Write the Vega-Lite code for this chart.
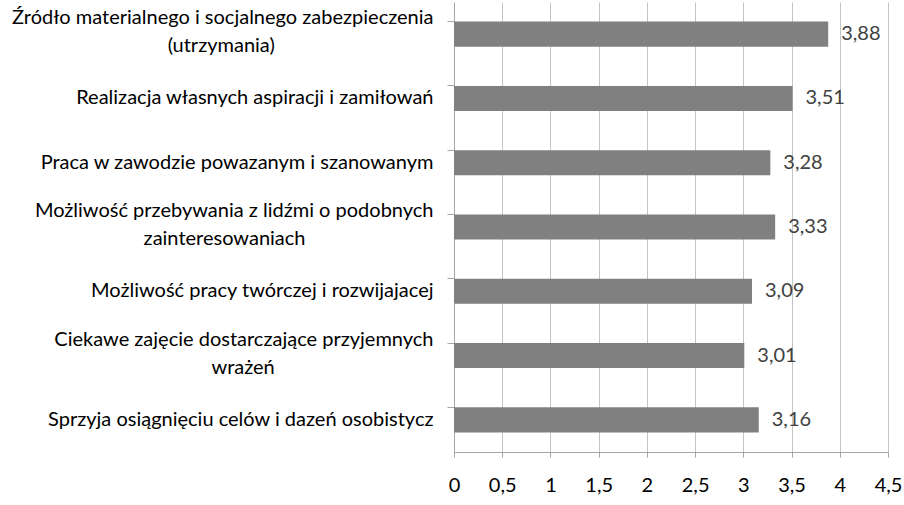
{
  "$schema": "https://vega.github.io/schema/vega-lite/v6.json",
  "autosize": {"type": "none"},
  "padding": {"left": 454, "top": 2, "right": 16, "bottom": 53},
  "width": 434,
  "height": 450,
  "background": "#ffffff",
  "config": {
    "locale": {"number": {"decimal": ",", "thousands": "\u00a0", "grouping": [3], "currency": ["", " zł"]}},
    "view": {"stroke": null},
    "font": "Lato"
  },
  "data": {
    "values": [
      {"kategoria": "Źródło materialnego i socjalnego zabezpieczenia|(utrzymania)", "wartosc": 3.88},
      {"kategoria": "Realizacja własnych aspiracji i zamiłowań", "wartosc": 3.51},
      {"kategoria": "Praca w zawodzie powazanym i szanowanym", "wartosc": 3.28},
      {"kategoria": "Możliwość przebywania z lidźmi o podobnych|zainteresowaniach", "wartosc": 3.33},
      {"kategoria": "Możliwość pracy twórczej  i rozwijajacej", "wartosc": 3.09},
      {"kategoria": "Ciekawe zajęcie dostarczające przyjemnych|wrażeń", "wartosc": 3.01},
      {"kategoria": "Sprzyja osiągnięciu celów i dazeń osobistycz", "wartosc": 3.16}
    ]
  },
  "encoding": {
    "y": {
      "field": "kategoria",
      "type": "nominal",
      "sort": null,
      "scale": {"paddingInner": 0.61, "paddingOuter": 0.305},
      "axis": {
        "title": null,
        "labelExpr": "indexof(datum.value, '|') < 0 ? datum.value : [split(datum.value, '|')[0], pad(split(datum.value, '|')[1], length(split(datum.value, '|')[1]) + round((length(split(datum.value, '|')[0]) - length(split(datum.value, '|')[1])) * 0.6 + 10), '\u00a0') + '\u200b']",
        "labelAlign": "right",
        "labelFont": "Lato",
        "labelFontSize": 20,
        "labelColor": "#000000",
        "labelLineHeight": 28,
        "labelPadding": 14,
        "labelOffset": {"condition": {"test": "indexof(datum.value, '|') >= 0", "value": -16}, "value": 0},
        "labelLimit": 0,
        "tickSize": 7,
        "tickColor": "#a6a6a6",
        "bandPosition": 0,
        "domainColor": "#a6a6a6",
        "grid": false
      }
    },
    "x": {
      "field": "wartosc",
      "type": "quantitative",
      "scale": {"domain": [0, 4.5], "nice": false},
      "axis": {
        "title": null,
        "values": [0, 0.5, 1, 1.5, 2, 2.5, 3, 3.5, 4, 4.5],
        "format": "~g",
        "labelFont": "Lato",
        "labelFontSize": 20,
        "labelColor": "#000000",
        "labelPadding": 18,
        "labelFlush": false,
        "tickSize": 5,
        "tickColor": "#a6a6a6",
        "domainColor": "#a6a6a6",
        "grid": true,
        "gridColor": "#c4c4c4"
      }
    }
  },
  "layer": [
    {"mark": {"type": "bar", "color": "#808080"}},
    {
      "mark": {"type": "text", "align": "left", "baseline": "middle", "dx": 13, "fontSize": 20, "font": "Lato", "color": "#404040"},
      "encoding": {"text": {"field": "wartosc", "type": "quantitative", "format": ".2f"}}
    }
  ]
}
